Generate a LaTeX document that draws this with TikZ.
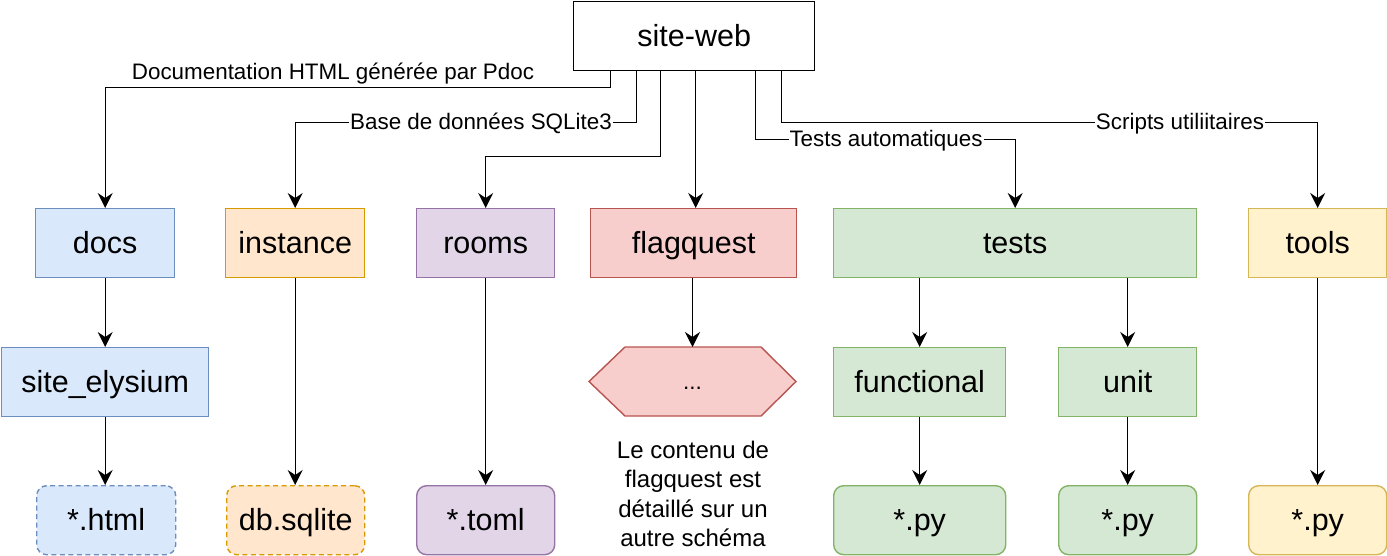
\documentclass[tikz,border=0pt]{standalone}
\usepackage{fontspec}
\setmainfont{Liberation Sans}
\usetikzlibrary{arrows.meta,calc}
\definecolor{bluef}{HTML}{DAE8FC}\definecolor{blued}{HTML}{6C8EBF}
\definecolor{orangef}{HTML}{FFE6CC}\definecolor{oranged}{HTML}{D79B00}
\definecolor{purplef}{HTML}{E1D5E7}\definecolor{purpled}{HTML}{9673A6}
\definecolor{redf}{HTML}{F8CECC}\definecolor{redd}{HTML}{B85450}
\definecolor{greenf}{HTML}{D5E8D4}\definecolor{greend}{HTML}{82B366}
\definecolor{yellowf}{HTML}{FFF2CC}\definecolor{yellowd}{HTML}{D6B656}
\tikzset{
  box/.style={draw, line width=1.4pt, minimum height=69pt, inner sep=0pt,
    font=\fontsize{30.5}{36}\selectfont, text height=27.6pt, text depth=6.5pt,
    anchor=north west},
  rbox/.style={box, rounded corners=10pt},
  dsh/.style={dash pattern=on 5pt off 3.5pt},
  blue/.style={fill=bluef, draw=blued},
  orange/.style={fill=orangef, draw=oranged},
  purple/.style={fill=purplef, draw=purpled},
  red/.style={fill=redf, draw=redd},
  green/.style={fill=greenf, draw=greend},
  yellow/.style={fill=yellowf, draw=yellowd},
  arr/.style={draw=black, line width=1.4pt, -{Stealth[length=15pt,width=15pt,inset=5pt]}},
  lbl/.style={fill=white, inner sep=1pt, font=\fontsize{22.4}{26}\selectfont,
    text height=20.3pt, text depth=4.75pt},
}
\begin{document}
\begin{tikzpicture}[x=1pt,y=-1pt]
\useasboundingbox (0,0) rectangle (1387,555);
% top
\node[box, fill=white, draw=black, minimum width=241pt] (sw) at (573,1) {site-web};
% row 1
\node[box, blue, minimum width=139pt] (docs) at (35,208) {docs};
\node[box, orange, minimum width=139pt] (inst) at (225,208) {instance};
\node[box, purple, minimum width=138pt] (rooms) at (416,208) {rooms};
\node[box, red, minimum width=206pt] (flag) at (590,208) {flagquest};
\node[box, green, minimum width=363pt] (tests) at (833,208) {tests};
\node[box, yellow, minimum width=138pt] (tools) at (1248,208) {tools};
% row 2
\node[box, blue, minimum width=207pt] (elys) at (1,347) {site\_elysium};
\draw[red, line width=1.4pt] (589,381.5) -- (625,347) -- (761,347) -- (796,381.5) -- (761,416) -- (625,416) -- cycle;
\node[lbl, fill=none, inner sep=0pt] (hex) at (692.5,381.5) {...};
\coordinate (hexn) at (692.5,347);
\node[box, green, minimum width=172pt] (func) at (833,347) {functional};
\node[box, green, minimum width=138pt] (unit) at (1058,347) {unit};
% row 3
\node[rbox, blue, dsh, minimum width=139pt] (html) at (36,485) {*.html};
\node[rbox, orange, dsh, minimum width=138pt] (db) at (226,485) {db.sqlite};
\node[rbox, purple, minimum width=138pt] (toml) at (416,485) {*.toml};
\node[rbox, green, minimum width=172pt] (py1) at (833,485) {*.py};
\node[rbox, green, minimum width=138pt] (py2) at (1058,485) {*.py};
\node[rbox, yellow, minimum width=138pt] (py3) at (1248,485) {*.py};
% note
\node[align=center, inner sep=0pt, font=\fontsize{24}{29.5}\selectfont] (note) at (693,494)
  {Le contenu de\\flagquest est\\détaillé sur un\\autre schéma};
% connectors from site-web
\coordinate (swf) at ([xshift=1.5pt]sw.south);
\draw[arr] ([xshift=-83.5pt]sw.south) -- ++(0,16) -| (docs.north);
\draw[arr] ([xshift=-57.5pt]sw.south) -- ++(0,51) -| (inst.north);
\draw[arr] ([xshift=-33.5pt]sw.south) -- ++(0,85) -| (rooms.north);
\draw[arr] (swf) -- (flag.north -| swf);
\draw[arr] ([xshift=61.5pt]sw.south) -- ++(0,68) -| (tests.north);
\draw[arr] ([xshift=87.5pt]sw.south) -- ++(0,51) -| (tools.north);
\node[lbl, fill=none] (l1) at (333,72) {Documentation HTML générée par Pdoc};
\node[lbl] (l2) at (481,122) {Base de données SQLite3};
\node[lbl] (l3) at (886,139) {Tests automatiques};
\node[lbl] (l4) at (1180,122) {Scripts utiliitaires};
% inner connectors
\draw[arr] (docs.south) -- (elys.north -| docs.south);
\draw[arr] (elys.south -| docs.south) -- (html.north -| docs.south);
\draw[arr] (inst.south) -- (db.north -| inst.south);
\draw[arr] (rooms.south) -- (toml.north -| rooms.south);
\draw[arr] (flag.south -| hexn) -- (hexn);
\draw[arr] (tests.south -| func.north) -- (func.north);
\draw[arr] (tests.south -| unit.north) -- (unit.north);
\draw[arr] (func.south) -- (py1.north);
\draw[arr] (unit.south) -- (py2.north);
\draw[arr] (tools.south) -- (py3.north);
\end{tikzpicture}
\end{document}
